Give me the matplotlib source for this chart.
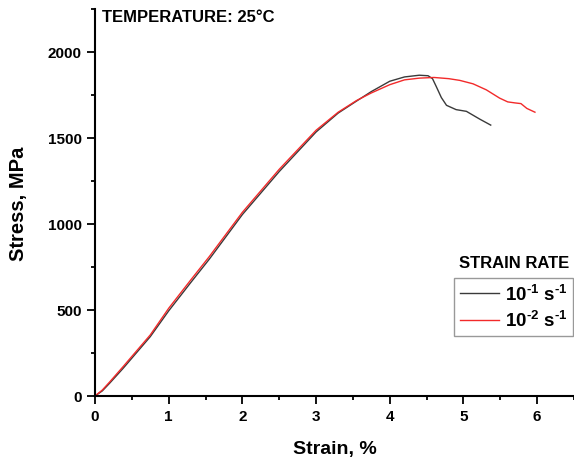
import numpy as np
import matplotlib
matplotlib.use('Agg')
import matplotlib.pyplot as plt

plt.rcParams['font.family'] = ['Liberation Sans', 'DejaVu Sans']
plt.rcParams['font.weight'] = 'bold'
plt.rcParams['mathtext.fontset'] = 'custom'
plt.rcParams['mathtext.bf'] = 'Liberation Sans:bold'
plt.rcParams['mathtext.rm'] = 'Liberation Sans:bold'
plt.rcParams['mathtext.default'] = 'bf'

# strain rate 10^-1 s^-1
strain_1 = [0, 0.1, 0.2, 0.38, 0.52, 0.75, 1.0, 1.3, 1.55, 2.0, 2.5, 3.0, 3.3,
            3.55, 3.75, 4.0, 4.2, 4.4, 4.52, 4.58, 4.63, 4.7, 4.77, 4.9, 5.04,
            5.22, 5.37]
stress_1 = [0, 30, 75, 160, 230, 345, 495, 660, 795, 1055, 1305, 1535, 1645,
            1715, 1770, 1830, 1855, 1865, 1862, 1845, 1800, 1735, 1690, 1665,
            1655, 1610, 1575]

# strain rate 10^-2 s^-1
strain_2 = [0, 0.1, 0.2, 0.38, 0.52, 0.75, 1.0, 1.3, 1.55, 2.0, 2.5, 3.0, 3.3,
            3.55, 3.75, 4.0, 4.2, 4.4, 4.6, 4.8, 4.95, 5.13, 5.31, 5.49, 5.6,
            5.7, 5.78, 5.86, 5.97]
stress_2 = [0, 35, 82, 170, 240, 355, 510, 675, 810, 1068, 1318, 1545, 1650,
            1718, 1762, 1810, 1838, 1848, 1852, 1845, 1835, 1815, 1780, 1732,
            1710, 1704, 1700, 1672, 1650]

labels = ['$10^{\\text{-}1}$ $s^{\\text{-}1}$', '$10^{\\text{-}2}$ $s^{\\text{-}1}$']

fig = plt.figure(figsize=(5.74, 4.6), dpi=100)
ax = fig.add_axes([95/574, 1-397/460, 1-95/574, 387/460])

ax.plot(strain_1, stress_1, color='#3a3a3a', lw=1.0, label=labels[0])
ax.plot(strain_2, stress_2, color='#f22a2a', lw=1.0, label=labels[1])

ax.set_xlim(0, 6.5)
ax.set_ylim(0, 2250)
ax.set_xticks(np.arange(0, 7, 1))
ax.set_xticks(np.arange(0.5, 6.6, 1), minor=True)
ax.set_yticks(np.arange(0, 2001, 500))
ax.set_yticks(np.arange(250, 2251, 500), minor=True)

for s in ['top', 'right']:
    ax.spines[s].set_visible(False)
for s in ['left', 'bottom']:
    ax.spines[s].set_linewidth(1.5)
ax.tick_params(which='major', length=5.5, width=1.3, labelsize=11, pad=4)
ax.tick_params(which='minor', length=3, width=1.3)
for t in ax.get_xticklabels() + ax.get_yticklabels():
    t.set_fontweight('bold')

ax.set_xlabel('Strain, %', fontsize=14, fontweight='bold', labelpad=12)
ax.set_ylabel('Stress, MPa', fontsize=14.5, fontweight='bold', labelpad=14)

fig.text(102/574, 1-18/460, 'TEMPERATURE: 25\u00b0C', fontsize=12,
         fontweight='bold', va='center', ha='left')
fig.text(514/574, 1-263/460, 'STRAIN RATE', fontsize=12, fontweight='bold',
         va='center', ha='center')

leg = fig.legend(loc='upper right', bbox_to_anchor=(573/574, 1-279/460),
                 fontsize=13.5, frameon=True, fancybox=False, handlelength=2.1,
                 handletextpad=0.3, borderpad=0.3, labelspacing=0.35,
                 borderaxespad=0)
leg.get_frame().set_edgecolor('#808080')
leg.get_frame().set_linewidth(1.0)

fig.savefig('out.png', dpi=100)
